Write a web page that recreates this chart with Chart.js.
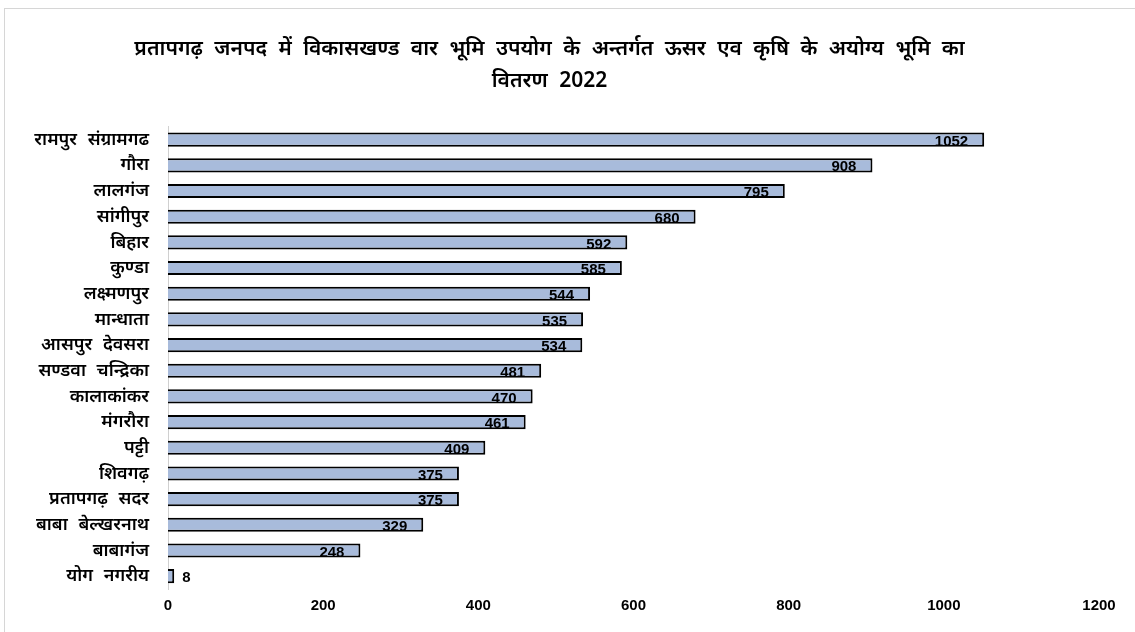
<!DOCTYPE html>
<html>
<head>
<meta charset="utf-8">
<script src="https://cdn.jsdelivr.net/npm/chart.js@4"></script>
<style>
  html, body { margin: 0; padding: 0; background: #fff; }
  #wrap { position: relative; width: 1135px; height: 632px; overflow: hidden; }
  #frame { position: absolute; left: 4px; top: 8px; width: 1200px; height: 700px; border: 1px solid #d6d6d6; }
  canvas { position: absolute; left: 0; top: 0; }
</style>
</head>
<body>
<div id="wrap">
  <div id="frame"></div>
  <canvas id="land-chart" width="1135" height="632"></canvas>
</div>
<script>
const blocks = ['रामपुर संग्रामगढ', 'गौरा', 'लालगंज', 'सांगीपुर', 'बिहार', 'कुण्डा', 'लक्ष्मणपुर', 'मान्धाता',
  'आसपुर देवसरा', 'सण्डवा चन्द्रिका', 'कालाकांकर', 'मंगरौरा', 'पट्टी', 'शिवगढ़', 'प्रतापगढ़ सदर',
  'बाबा बेल्खरनाथ', 'बाबागंज', 'योग नगरीय']
const landArea = [1052, 908, 795, 680, 592, 585, 544, 535, 534, 481, 470, 461, 409, 375, 375, 329, 248, 8]
const xTicks = [0, 200, 400, 600, 800, 1000, 1200]
const titleLines = ['प्रतापगढ़ जनपद में विकासखण्ड वार भूमि उपयोग के अन्तर्गत ऊसर एव कृषि के अयोग्य भूमि का', 'वितरण 2022']

const hindiFont = "'Noto Sans', 'DejaVu Sans', sans-serif"
const numFont = "'Liberation Sans', Arial, sans-serif"

// wider gaps between words, like the original
const wordGap = {
  id: 'wordGap',
  beforeDraw(chart) {
    chart.ctx.wordSpacing = '6px'
  }
}

// value labels at the end of each bar
const barLabels = {
  id: 'barLabels',
  afterDatasetsDraw(chart) {
    const ctx = chart.ctx
    const meta = chart.getDatasetMeta(0)
    ctx.save()
    ctx.font = 'bold 15px ' + numFont
    ctx.fillStyle = '#000'
    ctx.textBaseline = 'middle'
    meta.data.forEach((bar, i) => {
      const w = bar.x - bar.base
      if (w > 40) {
        ctx.textAlign = 'right'
        ctx.fillText(landArea[i], bar.x - 16, bar.y + 2)
      } else {
        ctx.textAlign = 'left'
        ctx.fillText(landArea[i], bar.x + 8, bar.y + 2)
      }
    })
    ctx.restore()
  }
}

const ctx = document.getElementById('land-chart').getContext('2d')
new Chart(ctx, {
  type: 'bar',
  data: {
    labels: blocks,
    datasets: [{
      data: landArea,
      backgroundColor: '#a8bbdb',
      borderColor: '#000',
      borderWidth: 2,
      barPercentage: 0.55,
      categoryPercentage: 1
    }]
  },
  options: {
    indexAxis: 'y',
    responsive: false,
    animation: false,
    layout: { padding: { left: 0, right: 36, top: 0, bottom: 0 } },
    plugins: {
      legend: { display: false },
      tooltip: { enabled: false },
      title: {
        display: true,
        text: titleLines,
        color: '#000',
        font: { family: hindiFont, size: 21, weight: '600', lineHeight: 1.52 },
        padding: { top: 33, bottom: 30 }
      }
    },
    scales: {
      x: {
        min: 0,
        max: 1200,
        afterBuildTicks: scale => { scale.ticks = xTicks.map(v => ({ value: v })) },
        afterFit: scale => { scale.height = 43 },
        grid: { display: false, drawTicks: false },
        border: { display: false },
        ticks: {
          color: '#000',
          padding: 8,
          maxRotation: 0,
          callback: v => String(v),
          font: { family: numFont, size: 15, weight: 'bold' }
        }
      },
      y: {
        afterFit: scale => { scale.width = 168 },
        grid: { display: false, drawTicks: false },
        border: { display: true, color: '#d0d0d0', width: 1 },
        ticks: {
          color: '#000',
          padding: 19,
          autoSkip: false,
          font: { family: hindiFont, size: 18, weight: '600' }
        }
      }
    }
  },
  plugins: [wordGap, barLabels]
})
</script>
</body>
</html>
